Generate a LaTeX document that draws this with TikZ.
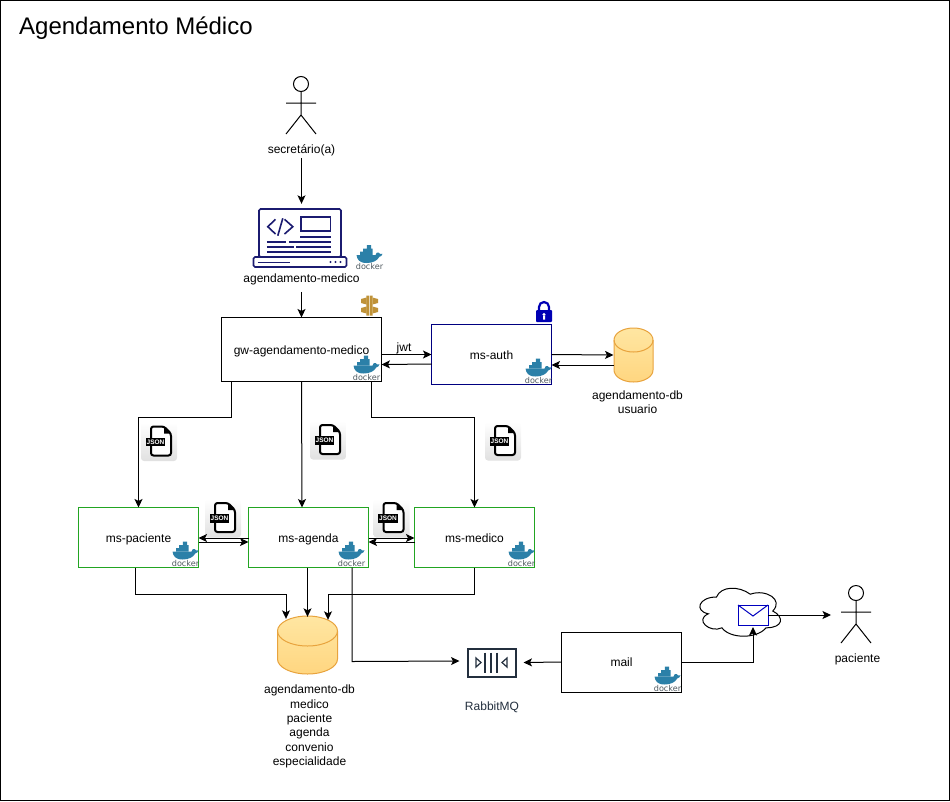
\documentclass[tikz,border=0pt]{standalone}
\usepackage{fontspec}
\setmainfont{Liberation Sans}
\newfontfamily\dockerfont{DejaVu Sans}
\usepackage{xcolor}
\usetikzlibrary{calc,arrows.meta}
\definecolor{boxgreen}{HTML}{22A522}
\definecolor{boxnavy}{HTML}{000080}
\definecolor{laptopblue}{HTML}{1B1B70}
\definecolor{dockerblue}{HTML}{2B80A8}
\definecolor{dockergray}{HTML}{505A60}
\definecolor{awsdark}{HTML}{232F3E}
\definecolor{lockblue}{HTML}{0000B4}
\definecolor{goldapi}{HTML}{BF9238}
\definecolor{dbtop}{HTML}{FFE6A2}
\definecolor{dbbottom}{HTML}{FFD680}
\definecolor{dbline}{HTML}{E8A33D}
\tikzset{
  lab/.style={font=\fontsize{12}{14.3}\selectfont, inner sep=1pt, align=center},
  svcbox/.style={draw=black, fill=white, line width=1pt, minimum width=120pt, minimum height=60pt, outer sep=0pt, font=\fontsize{12}{14.3}\selectfont, text height=10pt, text depth=1pt},
  greenbox/.style={svcbox, draw=boxgreen},
  conn/.style={line width=1pt, -{Stealth[length=8.5pt,width=8pt,inset=2pt]}},
  pics/actor/.style={code={
    \draw[line width=1pt] (0,-19) circle[radius=7.5pt];
    \draw[line width=1pt] (0,-11.5)--(0,12) (-15,0)--(15,0) (-15,31)--(0,12)--(15,31);
  }},
  pics/dbcyl/.style n args={3}{code={
    \path[draw=dbline, line width=1pt, top color=dbtop, bottom color=dbbottom]
      (-#1,-#2+#3) arc[start angle=180,end angle=0,x radius=#1pt,y radius=#3pt]
      -- (#1,#2-#3) arc[start angle=0,end angle=-180,x radius=#1pt,y radius=#3pt] -- cycle;
    \draw[dbline, line width=1pt] (-#1,-#2+#3) arc[start angle=180,end angle=360,x radius=#1pt,y radius=#3pt];
  }},
  pics/dockerlogo/.style={code={
    \begin{scope}[yshift=1.5pt]
    \fill[dockerblue] (-13,-2.5)--(6,-2.5) .. controls (6.5,-5) and (8,-5.5) .. (9,-5)
      .. controls (9.8,-3.6) and (11,-3.4) .. (13,-3.6) .. controls (12.5,-1.5) and (11,-1) .. (10,-0.8)
      .. controls (7.5,3.5) and (3,5.5) .. (-3,5.5) .. controls (-10,5.5) and (-12.5,2) .. (-13,-2.5) -- cycle;
    \fill[dockerblue] (-9.5,-6) rectangle (3.2,-2.5) (-6.3,-9) rectangle (3.2,-5.8) (-2.6,-12.5) rectangle (1.6,-8.8);
    \end{scope}
    \node[text=dockergray, font=\dockerfont\fontsize{8.1}{9}\selectfont, inner sep=0pt] (-txt) at (0,7.8) {docker};
  }},
  pics/jsonicon/.style={code={
    \path[rounded corners=3pt, top color=white, bottom color=black!12] (-18,-19) rectangle (18,19.5);
    \draw[line width=2pt, rounded corners=2.5pt, fill=white] (-8,-15)--(5,-15)--(12,-8)--(12,14)--(-8,14)--cycle;
    \fill (5,-15)--(12,-8)--(5,-8)--cycle;
    \node[fill=black, text=white, font=\bfseries\fontsize{6.5}{7}\selectfont, inner sep=0pt, minimum width=19.5pt, minimum height=8.5pt] (-txt) at (-3.5,0.5) {JSON};
  }},
  pics/laptop/.style={code={
    \begin{scope}[laptopblue, line width=1.6pt]
    \draw[rounded corners=1.5pt] (-42,-29)--(-42,19)--(40,19)--(40,-29)--cycle;
    \draw[rounded corners=1.5pt, line width=1.6pt] (-47.5,19)--(45.5,19)--(45.5,29)--(-47.5,29)--cycle;
    \draw (-25.5,-18.7)--(-33.2,-11.3)--(-25.5,-4) (-18.2,-19.7)--(-23.2,-2.3) (-16.5,-18.7)--(-8.2,-11.3)--(-16.5,-4);
    \draw (0.2,-21.3) rectangle (29.5,-7);
    \draw (-0.8,-1)--(30.2,-1);
    \draw (-34.2,4)--(-14.8,4) (-12.2,4)--(30.2,4);
    \draw (-34.2,9)--(-7.5,9) (-4.8,9)--(30.2,9);
    \draw (-34.2,14)--(30.2,14);
    \draw[line width=1pt] (-43.5,24)--(-11.5,24);
    \fill (29.5,24) circle[radius=1.2pt] (34.5,24) circle[radius=1.2pt] (39.5,24) circle[radius=1.2pt];
    \end{scope}
  }},
  pics/apigw/.style={code={
    \fill[goldapi] (-3.2,-10) rectangle (-0.4,10) (0.4,-10) rectangle (3.2,10);
    \fill[goldapi] (-8.5,-6.5)--(-3,-8)--(-3,-1)--(-8.5,-2.5)--cycle (-8.5,2.5)--(-3,1)--(-3,8)--(-8.5,6.5)--cycle;
    \fill[goldapi] (8.5,-6.5)--(3,-8)--(3,-1)--(8.5,-2.5)--cycle (8.5,2.5)--(3,1)--(3,8)--(8.5,6.5)--cycle;
  }},
  pics/lockicon/.style={code={
    \fill[lockblue, rounded corners=1pt] (-8,-2) rectangle (8,10);
    \draw[lockblue, line width=2.2pt] (-5,-2)--(-5,-5) arc[start angle=180,end angle=0,radius=5pt]--(5,-2);
    \fill[white] (0,2.5) circle[radius=1.7pt] (-1,3)--(1,3)--(1,7.5)--(-1,7.5)--cycle;
  }}
}
\begin{document}
\begin{tikzpicture}[x=1pt,y=-1pt]
\useasboundingbox (0,0) rectangle (950,801);
\draw[line width=1pt] (0.5,0.5) rectangle (949.5,800);
\node[anchor=west, inner sep=0pt, font=\fontsize{24}{28}\selectfont] (title) at (19,28) {Agendamento Médico};

% secretaria and frontend
\pic at (301,103) {actor};
\node[lab] (seclbl) at (301.5,150) {secretário(a)};
\path (301,238) pic {laptop};
\node[minimum width=94pt, minimum height=58pt, inner sep=0pt] (webapp) at (300.5,238) {};
\node[lab] (weblbl) at (301.5,279) {agendamento-medico};
\pic at (369.5,259) {dockerlogo};

% gateway and auth
\node[svcbox, minimum width=160pt, minimum height=64pt] (gw) at (301.5,349.5) {gw-agendamento-medico};
\pic at (369.5,305.5) {apigw};
\pic at (366.5,369.5) {dockerlogo};
\node[svcbox, draw=boxnavy] (auth) at (491.5,354.5) {ms-auth};
\pic at (544,312) {lockicon};
\pic at (538.5,372.5) {dockerlogo};
\pic at (633.5,355) {dbcyl={19.5}{27}{12}};
\coordinate (dbauth) at (613.5,355);
\node[lab] (dbauthlbl) at (637.5,402) {agendamento-db\\usuario};

% services
\node[greenbox] (pac) at (138.5,537.5) {ms-paciente};
\node[greenbox] (age) at (308.5,537.5) {ms-agenda};
\node[greenbox] (med) at (474.5,537.5) {ms-medico};
\pic at (185.5,555.5) {dockerlogo};
\pic at (351.5,555.5) {dockerlogo};
\pic at (521.5,555.5) {dockerlogo};
\pic at (159,441.5) {jsonicon};
\pic at (328,440) {jsonicon};
\pic at (503,441) {jsonicon};
\pic at (223,518) {jsonicon};
\pic at (391.5,518) {jsonicon};

% main database
\pic at (307.5,645) {dbcyl={30}{29}{15}};
\node[minimum width=60pt, minimum height=58pt, inner sep=0pt] (dbmain) at (307.5,645) {};
\node[lab] (dbmainlbl) at (309.5,726.5) {agendamento-db\\medico\\paciente\\agenda\\convenio\\especialidade};

% queue and mail
\node[draw=awsdark, line width=2pt, minimum width=48pt, minimum height=28pt, inner sep=0pt] (rabbit) at (491.5,662.5) {};
\draw[awsdark, line width=1.5pt] (485,652.5)--(485,672.5) (491,652.5)--(491,672.5) (497,652.5)--(497,672.5);
\draw[awsdark, line width=1.2pt] (476,658)--(481,662.5)--(476,667)--cycle (507,658)--(502,662.5)--(507,667)--cycle;
\node[lab, text=awsdark] (rabbitlbl) at (492,707) {RabbitMQ};
\node[svcbox] (mail) at (621.5,662) {mail};
\pic at (667.5,680.5) {dockerlogo};
\begin{scope}[shift={(694,583)},x=90pt,y=-56pt]
\draw[fill=white, line width=1pt] (0.25,0.25) .. controls (0.05,0.25) and (0,0.5) .. (0.16,0.55)
  .. controls (0,0.66) and (0.18,0.9) .. (0.31,0.8) .. controls (0.4,1) and (0.7,1) .. (0.8,0.8)
  .. controls (1,0.8) and (1,0.6) .. (0.875,0.5) .. controls (1,0.3) and (0.8,0.1) .. (0.625,0.2)
  .. controls (0.5,0.05) and (0.3,0.05) .. (0.25,0.25) -- cycle;
\end{scope}
\node[draw=blue!75!black, fill=white, line width=1pt, minimum width=30pt, minimum height=20pt, inner sep=0pt, outer sep=0pt] (env) at (753,615) {};
\draw[blue!75!black, line width=1pt] (env.north west)--(753,616)--(env.north east);
\pic at (856,612) {actor};
\coordinate (pactor) at (831,615);
\node[lab] (paclbl) at (857.5,659) {paciente};

% connectors
\draw[conn] ([yshift=-1pt]seclbl.south) -- ([yshift=5pt]webapp.north -| seclbl);
\draw[conn] ([yshift=-6pt]weblbl.south) -- (gw.north);
\draw[conn] ([xshift=-70pt]gw.south) -- ++(0,36) -| (pac.north);
\draw[conn] (gw.south) -- (age.north -| 302,0);
\draw[conn] ([xshift=70pt]gw.south) -- ++(0,36) -| (med.north);
\draw[conn] ([yshift=-5pt]gw.east) -- ([yshift=0pt]auth.west);
\draw[conn] ([yshift=-9.5pt]auth.west) -- ([yshift=-15pt]gw.east);
\node[lab, inner sep=0pt] (jwtlbl) at (404,348) {jwt};
\draw[conn] (auth.east) -- (dbauth);
\draw[conn] ([yshift=-10pt]dbauth) -- ([yshift=-10.5pt]auth.east);
\draw[conn] ([yshift=-0.5pt]age.west) -- ([yshift=-0.5pt]pac.east);
\draw[conn] ([yshift=-4.5pt]pac.east) -- ([yshift=-4.5pt]age.west);
\draw[conn] ([yshift=-0.5pt]age.east) -- ([yshift=-0.5pt]med.west);
\draw[conn] ([yshift=-4.5pt]med.west) -- ([yshift=-4.5pt]age.east);
\draw[conn] ([xshift=-3.5pt]pac.south) -- ++(0,27) -| ([xshift=-21.5pt,yshift=-3pt]dbmain.north);
\draw[conn] (dbmain.north |- age.south) -- ([yshift=-1pt]dbmain.north);
\draw[conn] (med.south) -- ++(0,27) -| ([xshift=20.5pt,yshift=-4pt]dbmain.north);
\draw[conn] ([xshift=43.5pt]age.south) -- ++(0,94) -- ([xshift=-7pt]rabbit.west |- 0,661);
\draw[conn] (mail.west) -- ([xshift=7pt]rabbit.east);
\draw[conn] (mail.east) -| ([yshift=-2pt]env.south);
\draw[conn] (env.east) -- (pactor);
\end{tikzpicture}
\end{document}
